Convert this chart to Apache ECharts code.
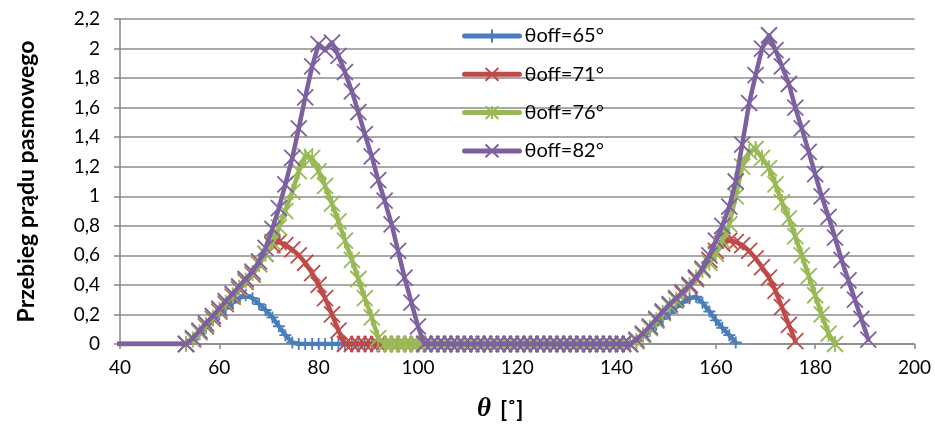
<!DOCTYPE html>
<html>
<head>
<meta charset="utf-8">
<script src="https://cdn.jsdelivr.net/npm/echarts@6/dist/echarts.min.js"></script>
<style>
html, body {margin: 0; padding: 0; background: #fff;}
#main {width: 935px; height: 430px;}
</style>
</head>
<body>
<div id="main"></div>
<script>
// katy [deg], krok ok. 4/3 stopnia; pierwszy punkt poza osia (linia od lewej krawedzi)
var theta = [36,
	53.3, 54.7, 56, 57.3, 58.7, 60, 61.3, 62.7, 64, 65.3,
	66.7, 68, 69.3, 70.7, 72, 73.3, 74.7, 76, 77.3, 78.7,
	80, 81.3, 82.7, 84, 85.3, 86.7, 88, 89.3, 90.7, 92,
	93.3, 94.7, 96, 97.3, 98.7, 100, 101.3, 102.7, 104, 105.3,
	106.7, 108, 109.3, 110.7, 112, 113.3, 114.7, 116, 117.3, 118.7,
	120, 121.3, 122.7, 124, 125.3, 126.7, 128, 129.3, 130.7, 132,
	133.3, 134.7, 136, 137.3, 138.7, 140, 141.3, 142.7, 144, 145.3,
	146.7, 148, 149.3, 150.7, 152, 153.3, 154.7, 156, 157.3, 158.7,
	160, 161.3, 162.7, 164, 165.3, 166.7, 168, 169.3, 170.7, 172,
	173.3, 174.7, 176, 177.3, 178.7, 180, 181.3, 182.7, 184, 185.3,
	186.7, 188, 189.3, 190.7, 192];

var names = ['θoff=65°', 'θoff=71°', 'θoff=76°', 'θoff=82°'];

var i_off65 = [0,
	0, 0.03, 0.07, 0.11, 0.16, 0.20, 0.24, 0.28, 0.31, 0.33,
	0.31, 0.27, 0.23, 0.18, 0.12, 0.06, 0.01, 0, 0, 0,
	0, 0, 0, 0, 0, 0, 0, 0, 0, 0,
	0, 0, 0, 0, 0, 0, 0, 0, 0, 0,
	0, 0, 0, 0, 0, 0, 0, 0, 0, 0,
	0, 0, 0, 0, 0, 0, 0, 0, 0, 0,
	0, 0, 0, 0, 0, 0, 0, 0, 0.02, 0.05,
	0.09, 0.13, 0.17, 0.21, 0.25, 0.28, 0.31, 0.32, 0.28, 0.22,
	0.16, 0.11, 0.06, 0.01];

var i_off71 = [0,
	0, 0.03, 0.08, 0.12, 0.17, 0.22, 0.27, 0.32, 0.37, 0.42,
	0.47, 0.54, 0.61, 0.67, 0.69, 0.67, 0.64, 0.60, 0.55, 0.48,
	0.40, 0.31, 0.20, 0.09, 0, 0, 0, 0, 0, 0,
	0, 0, 0, 0, 0, 0, 0, 0, 0, 0,
	0, 0, 0, 0, 0, 0, 0, 0, 0, 0,
	0, 0, 0, 0, 0, 0, 0, 0, 0, 0,
	0, 0, 0, 0, 0, 0, 0, 0, 0.02, 0.06,
	0.11, 0.16, 0.21, 0.26, 0.30, 0.34, 0.39, 0.44, 0.50, 0.57,
	0.63, 0.68, 0.70, 0.69, 0.67, 0.63, 0.58, 0.52, 0.45, 0.36,
	0.25, 0.13, 0.02];

var i_off76 = [0,
	0, 0.03, 0.08, 0.13, 0.18, 0.23, 0.28, 0.33, 0.38, 0.43,
	0.48, 0.54, 0.61, 0.69, 0.79, 0.90, 1.03, 1.17, 1.27, 1.26,
	1.17, 1.07, 0.95, 0.83, 0.70, 0.57, 0.44, 0.31, 0.18, 0.04,
	0, 0, 0, 0, 0, 0, 0, 0, 0, 0,
	0, 0, 0, 0, 0, 0, 0, 0, 0, 0,
	0, 0, 0, 0, 0, 0, 0, 0, 0, 0,
	0, 0, 0, 0, 0, 0, 0, 0, 0.02, 0.06,
	0.11, 0.16, 0.21, 0.26, 0.30, 0.35, 0.40, 0.45, 0.50, 0.55,
	0.61, 0.70, 0.81, 1.00, 1.20, 1.30, 1.32, 1.26, 1.19, 1.08,
	0.96, 0.85, 0.73, 0.60, 0.46, 0.33, 0.20, 0.07, 0];

var i_off82 = [0,
	0, 0.04, 0.09, 0.14, 0.19, 0.24, 0.29, 0.34, 0.39, 0.44,
	0.49, 0.56, 0.65, 0.78, 0.92, 1.08, 1.26, 1.46, 1.67, 1.88,
	2.03, 1.99, 2.04, 1.95, 1.84, 1.71, 1.57, 1.42, 1.27, 1.11,
	0.97, 0.81, 0.63, 0.45, 0.28, 0.12, 0, 0, 0, 0,
	0, 0, 0, 0, 0, 0, 0, 0, 0, 0,
	0, 0, 0, 0, 0, 0, 0, 0, 0, 0,
	0, 0, 0, 0, 0, 0, 0, 0, 0.03, 0.07,
	0.12, 0.17, 0.22, 0.27, 0.31, 0.35, 0.40, 0.45, 0.51, 0.60,
	0.70, 0.80, 0.93, 1.10, 1.35, 1.63, 1.82, 2.00, 2.09, 1.99,
	1.88, 1.76, 1.60, 1.46, 1.30, 1.15, 1.00, 0.86, 0.72, 0.57,
	0.43, 0.30, 0.17, 0.03];

var yTicks = [0, 2.2, 0.2];
var xTicks = [40, 200, 20];

var colors = ['#4a7ebb', '#be4b48', '#98b954', '#7d60a0'];
var markers = [
	'path://M5,0L5,10M0,5L10,5',
	'path://M0,0L10,10M10,0L0,10',
	'path://M0,0L10,10M10,0L0,10M5,0L5,10',
	'path://M0,0L10,10M10,0L0,10'
];
var markerSize = [12, 16, 16, 16];

var font = 'Lato, "Open Sans", sans-serif';

function pairs(values) {
	var out = [];
	values.forEach(function(v, i) {
		out.push([theta[i], v]);
	});
	return out;
}

var seriesValues = [i_off65, i_off71, i_off76, i_off82];
var series = [];
seriesValues.forEach(function(vals, s) {
	series.push({
		name: names[s],
		type: 'line',
		data: pairs(vals),
		symbol: markers[s],
		symbolSize: markerSize[s],
		showAllSymbol: true,
		clip: true,
		lineStyle: {color: colors[s], width: 4.5, cap: 'round', join: 'round'},
		itemStyle: {color: colors[s], borderColor: colors[s], borderWidth: 1.8},
		z: 2 + s
	});
});

var myChart = echarts.init(document.getElementById('main'));
var option = {
	animation: false,
	grid: {left: 120, right: 20.5, top: 19, bottom: 86},
	legend: {
		data: names,
		orient: 'vertical',
		left: 462,
		top: 26,
		padding: 0,
		itemWidth: 55,
		itemHeight: 16,
		itemGap: 18.3,
		lineStyle: {width: 5, cap: 'round'},
		textStyle: {fontFamily: font, fontSize: 20, color: '#000'}
	},
	xAxis: {
		type: 'value',
		min: xTicks[0],
		max: xTicks[1],
		interval: xTicks[2],
		name: '{t|θ}{b|[˚]}',
		nameLocation: 'middle',
		nameGap: 52,
		nameTextStyle: {
			padding: [0, 34, 0, 0],
			rich: {
				t: {fontFamily: '"Liberation Serif", serif', fontStyle: 'italic', fontWeight: 'bold', fontSize: 27, color: '#000', padding: [0, 9, 0, 0]},
				b: {fontFamily: font, fontWeight: 'bold', fontSize: 23, color: '#000'}
			}
		},
		axisLine: {lineStyle: {color: '#868686', width: 1.5}},
		axisTick: {show: true, length: 5, lineStyle: {color: '#868686', width: 1.5}},
		axisLabel: {fontFamily: font, fontSize: 19, color: '#000', margin: 14},
		splitLine: {show: false}
	},
	yAxis: {
		type: 'value',
		min: yTicks[0],
		max: yTicks[1],
		interval: yTicks[2],
		name: 'Przebieg prądu pasmowego',
		nameLocation: 'middle',
		nameGap: 82,
		nameTextStyle: {fontFamily: font, fontWeight: 'bold', fontSize: 23, color: '#000'},
		axisLine: {show: true, lineStyle: {color: '#868686', width: 1.5}},
		axisTick: {show: true, length: 6, lineStyle: {color: '#868686', width: 1.5}},
		axisLabel: {
			fontFamily: font, fontSize: 19, color: '#000', margin: 20,
			formatter: function(v) {
				return String(Math.round(v * 10) / 10).replace('.', ',');
			}
		},
		splitLine: {lineStyle: {color: '#8c8c8c', width: 1.5}}
	},
	series: series
};
myChart.setOption(option);
</script>
</body>
</html>
